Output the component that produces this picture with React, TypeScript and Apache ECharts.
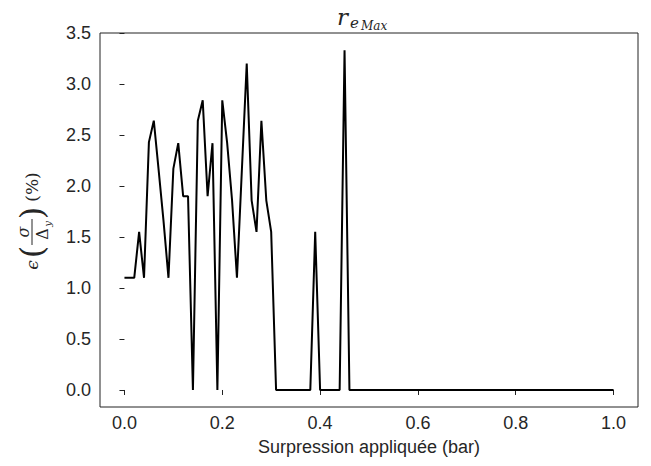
import React, { useEffect, useRef } from 'react';
import * as echarts from 'echarts';

// Applied overpressure (bar)
const pressure = [
  0.0, 0.01, 0.02, 0.03, 0.04, 0.05, 0.06, 0.07, 0.08, 0.09,
  0.1, 0.11, 0.12, 0.13, 0.14, 0.15, 0.16, 0.17, 0.18, 0.19,
  0.2, 0.21, 0.22, 0.23, 0.24, 0.25, 0.26, 0.27, 0.28, 0.29,
  0.3, 0.31, 0.32, 0.33, 0.34, 0.35, 0.36, 0.37, 0.38, 0.39,
  0.4, 0.41, 0.42, 0.43, 0.44, 0.45, 0.46, 0.47, 0.48, 0.49,
  0.5, 0.51, 0.52, 0.53, 0.54, 0.55, 0.56, 0.57, 0.58, 0.59,
  0.6, 0.61, 0.62, 0.63, 0.64, 0.65, 0.66, 0.67, 0.68, 0.69,
  0.7, 0.71, 0.72, 0.73, 0.74, 0.75, 0.76, 0.77, 0.78, 0.79,
  0.8, 0.81, 0.82, 0.83, 0.84, 0.85, 0.86, 0.87, 0.88, 0.89,
  0.9, 0.91, 0.92, 0.93, 0.94, 0.95, 0.96, 0.97, 0.98, 0.99,
  1.0,
];

// Relative error (%)
const errorPct = [
  1.1, 1.1, 1.1, 1.55, 1.1, 2.43, 2.64, 2.15, 1.65, 1.1,
  2.17, 2.42, 1.9, 1.9, 0, 2.64, 2.84, 1.9, 2.42, 0,
  2.84, 2.42, 1.86, 1.1, 2.15, 3.2, 1.86, 1.55, 2.64, 1.86,
  1.55, 0, 0, 0, 0, 0, 0, 0, 0, 1.55,
  0, 0, 0, 0, 0, 3.33, 0, 0, 0, 0,
  0, 0, 0, 0, 0, 0, 0, 0, 0, 0,
  0, 0, 0, 0, 0, 0, 0, 0, 0, 0,
  0, 0, 0, 0, 0, 0, 0, 0, 0, 0,
  0, 0, 0, 0, 0, 0, 0, 0, 0, 0,
  0, 0, 0, 0, 0, 0, 0, 0, 0, 0,
  0,
];

const xTicks = [0, 0.2, 0.4, 0.6, 0.8, 1.0];
const yTicks = [0, 0.5, 1.0, 1.5, 2.0, 2.5, 3.0, 3.5];
const xAxisTitle = 'Surpression appliquée (bar)';

const TXT = '#262626';
const SANS = 'Liberation Sans';
const SERIF = 'DejaVu Serif';

export default function App() {
  const ref = useRef<HTMLDivElement>(null);
  useEffect(() => {
    const chart = echarts.init(ref.current!, undefined, { renderer: 'svg' });
    const data = pressure.map((p, i) => [p, errorPct[i]]);
    chart.setOption({
      animation: false,
      backgroundColor: '#fff',
      grid: {
        left: 100,
        right: 13,
        top: 33,
        bottom: 59,
        show: true,
        borderColor: '#222',
        borderWidth: 1,
        backgroundColor: 'transparent',
      },
      xAxis: {
        type: 'value',
        min: -0.05,
        max: 1.05,
        name: xAxisTitle,
        nameLocation: 'middle',
        nameGap: 31,
        nameTextStyle: { fontFamily: SANS, fontSize: 18, color: TXT },
        axisLine: { show: false },
        splitLine: { show: false },
        axisTick: { show: true, length: 5, customValues: xTicks, lineStyle: { color: '#222' } },
        axisLabel: {
          customValues: xTicks,
          margin: 7,
          fontFamily: SANS,
          fontSize: 18,
          color: TXT,
          formatter: (v: number) => v.toFixed(1),
        },
      },
      yAxis: {
        type: 'value',
        min: -0.1667,
        max: 3.5,
        axisLine: { show: false },
        splitLine: { show: false },
        axisTick: { show: true, length: 5, customValues: yTicks, lineStyle: { color: '#222' } },
        axisLabel: {
          customValues: yTicks,
          margin: 9,
          fontFamily: SANS,
          fontSize: 18,
          color: TXT,
          formatter: (v: number) => v.toFixed(1),
        },
      },
      series: [
        {
          type: 'line',
          data,
          showSymbol: false,
          symbol: 'none',
          lineStyle: { color: '#000', width: 2 },
          z: 3,
        },
      ],
      graphic: [
        // Title r_{e_{Max}}
        {
          type: 'group',
          children: [
            { type: 'text', x: 337, y: 5, style: { text: 'r', font: `italic 23px "${SERIF}"`, fill: TXT } },
            { type: 'text', x: 350, y: 15, style: { text: 'e', font: `italic 15px "${SERIF}"`, fill: TXT } },
            { type: 'text', x: 361, y: 20, style: { text: 'Max', font: `italic 12px "${SERIF}"`, fill: TXT } },
          ],
        },
        // Y axis title: ϵ (σ/Δ_y) (%)
        {
          type: 'group',
          x: 32,
          y: 232,
          rotation: Math.PI / 2,
          children: [
            { type: 'text', x: -33, y: 0, style: { text: 'ϵ', font: `italic 17px "${SERIF}"`, fill: TXT, align: 'center', verticalAlign: 'middle' } },
            { type: 'text', x: -20, y: 0, style: { text: '(', font: `32px "${SERIF}"`, fill: TXT, align: 'center', verticalAlign: 'middle' } },
            { type: 'text', x: 0, y: -9, style: { text: 'σ', font: `italic 16px "${SERIF}"`, fill: TXT, align: 'center', verticalAlign: 'middle' } },
            { type: 'line', shape: { x1: -13, y1: 0, x2: 13, y2: 0 }, style: { stroke: TXT, lineWidth: 1 } },
            { type: 'text', x: -2, y: 10, style: { text: 'Δ', font: `16px "${SERIF}"`, fill: TXT, align: 'center', verticalAlign: 'middle' } },
            { type: 'text', x: 8, y: 15, style: { text: 'y', font: `italic 10px "${SERIF}"`, fill: TXT, align: 'center', verticalAlign: 'middle' } },
            { type: 'text', x: 19, y: 0, style: { text: ')', font: `32px "${SERIF}"`, fill: TXT, align: 'center', verticalAlign: 'middle' } },
            { type: 'text', x: 45, y: 0, style: { text: '(%)', font: `17px "${SERIF}"`, fill: TXT, align: 'center', verticalAlign: 'middle' } },
          ],
        },
      ],
    });
    return () => chart.dispose();
  }, []);
  return (
    <div
      ref={ref}
      style={{ position: 'fixed', left: 0, top: 0, width: 651, height: 466, background: '#fff' }}
    />
  );
}
